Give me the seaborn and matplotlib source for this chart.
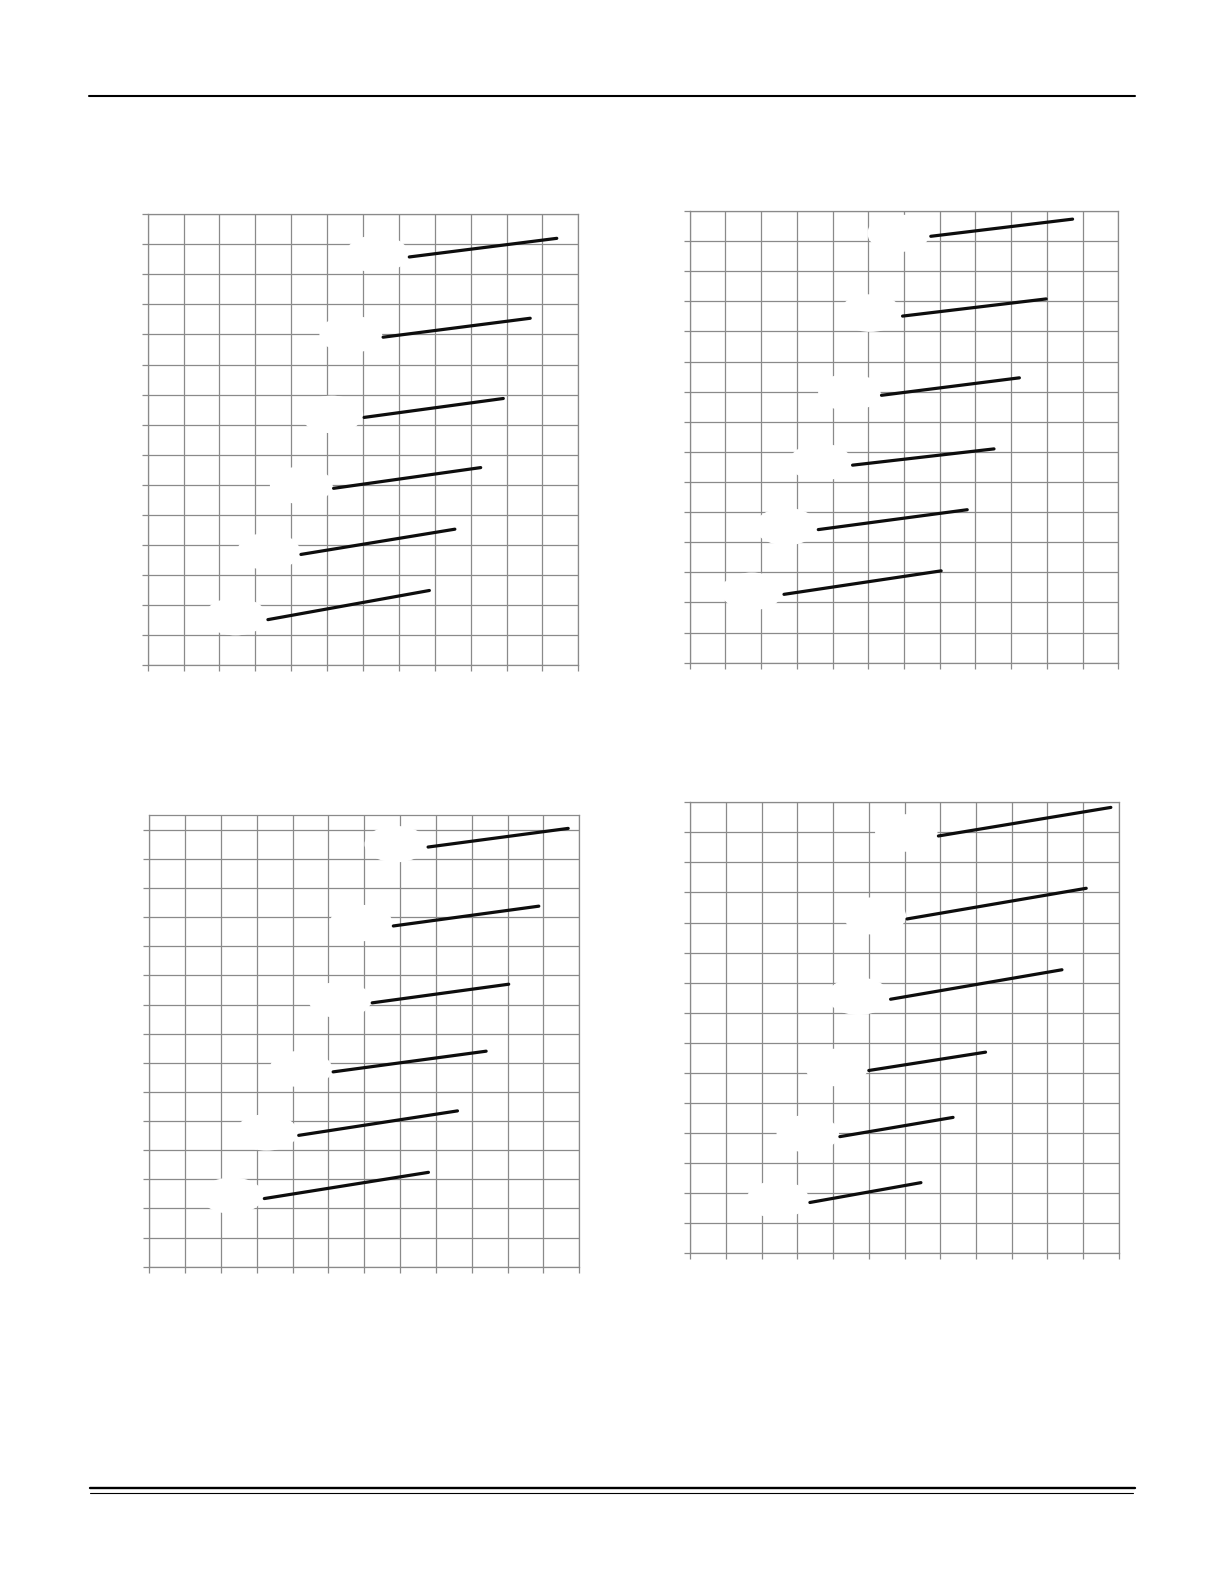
import numpy as np
import pandas as pd
import matplotlib
matplotlib.use('Agg')
import matplotlib.pyplot as plt
from matplotlib.lines import Line2D
from matplotlib.patches import Ellipse
import seaborn as sns

# Segment end points, in grid units (x: 12 columns, y: 15 rows)
# top left panel
p1_x_start = [7.29, 6.56, 6.03, 5.18, 4.27, 3.35]
p1_x_end = [11.40, 10.66, 9.91, 9.28, 8.56, 7.85]
p1_y_start = [13.58, 10.91, 8.24, 5.88, 3.68, 1.51]
p1_y_end = [14.20, 11.54, 8.87, 6.57, 4.52, 2.48]

# top right panel
p2_x_start = [6.75, 5.96, 5.37, 4.56, 3.60, 2.64]
p2_x_end = [10.72, 9.98, 9.23, 8.52, 7.77, 7.04]
p2_y_start = [14.16, 11.51, 8.88, 6.56, 4.42, 2.27]
p2_y_end = [14.73, 12.08, 9.46, 7.10, 5.08, 3.05]

# bottom left panel (grid goes half a row higher)
p3_x_start = [7.78, 6.81, 6.22, 5.13, 4.17, 3.21]
p3_x_end = [11.69, 10.87, 10.03, 9.40, 8.60, 7.79]
p3_y_start = [14.41, 11.70, 9.06, 6.69, 4.51, 2.34]
p3_y_end = [15.05, 12.38, 9.70, 7.40, 5.35, 3.24]

# bottom right panel
p4_x_start = [6.95, 6.07, 5.61, 5.00, 4.19, 3.35]
p4_x_end = [11.78, 11.09, 10.41, 8.27, 7.36, 6.46]
p4_y_start = [13.88, 11.12, 8.45, 6.08, 3.88, 1.69]
p4_y_end = [14.83, 12.14, 9.43, 6.69, 4.52, 2.35]

panel_ymax = [15, 15, 15.5, 15]


def to_frame(xs, xe, ys, ye):
    rows = []
    for i in range(len(xs)):
        rows.append({'curve': i, 'x': xs[i], 'y': ys[i]})
        rows.append({'curve': i, 'x': xe[i], 'y': ye[i]})
    return pd.DataFrame(rows)


panels = [
    to_frame(p1_x_start, p1_x_end, p1_y_start, p1_y_end),
    to_frame(p2_x_start, p2_x_end, p2_y_start, p2_y_end),
    to_frame(p3_x_start, p3_x_end, p3_y_start, p3_y_end),
    to_frame(p4_x_start, p4_x_end, p4_y_start, p4_y_end),
]

sns.set_style('white')
W, H = 1224, 1584
fig = plt.figure(figsize=(W / 100, H / 100), dpi=100)

# axes boxes in pixels: left, top, right, bottom
boxes = [
    (147.7, 214.3, 578.3, 665.0),
    (689.7, 211.0, 1118.3, 662.7),
    (149.3, 815.3, 579.3, 1266.7),
    (690.3, 802.3, 1118.7, 1253.3),
]

grid_col = '#8a8a8a'
for df, box, ymax in zip(panels, boxes, panel_ymax):
    l, t, r, b = box
    ax = fig.add_axes([l / W, 1 - b / H, (r - l) / W, (b - t) / H])
    ax.set_xlim(0, 12)
    ax.set_ylim(0, ymax)
    ax.set_xticks(range(13))
    ax.set_yticks(range(16))
    ax.set_xticklabels([])
    ax.set_yticklabels([])
    ax.tick_params(length=4, width=0.9, color=grid_col, direction='out',
                   left=True, bottom=True)
    ax.grid(True, color=grid_col, linewidth=0.9)
    ax.set_axisbelow(True)
    for s in ax.spines.values():
        s.set_color(grid_col)
        s.set_linewidth(0.9)

    # white patches where the curve labels were taken off the page
    starts = df.groupby('curve').first()
    for _, row in starts.iterrows():
        ax.add_patch(Ellipse((row['x'] - 0.9, row['y'] + 0.1), 1.75, 1.25,
                             facecolor='white', edgecolor='none', zorder=1.5))

    sns.lineplot(data=df, x='x', y='y', units='curve', estimator=None,
                 color='#0d0d0d', linewidth=2.3, ax=ax, zorder=3,
                 solid_capstyle='round')
    ax.set_xlabel('')
    ax.set_ylabel('')

# page rules at the top and bottom
fig.add_artist(Line2D([89 / W, 1135 / W], [1 - 95.7 / H] * 2,
                      transform=fig.transFigure, color='black', linewidth=1.5))
fig.add_artist(Line2D([90 / W, 1135 / W], [1 - 1487.5 / H] * 2,
                      transform=fig.transFigure, color='black', linewidth=1.7))
fig.add_artist(Line2D([90 / W, 1132.7 / W], [1 - 1493.4 / H] * 2,
                      transform=fig.transFigure, color='black', linewidth=0.8))

fig.savefig('out.png', dpi=100, facecolor='white')
